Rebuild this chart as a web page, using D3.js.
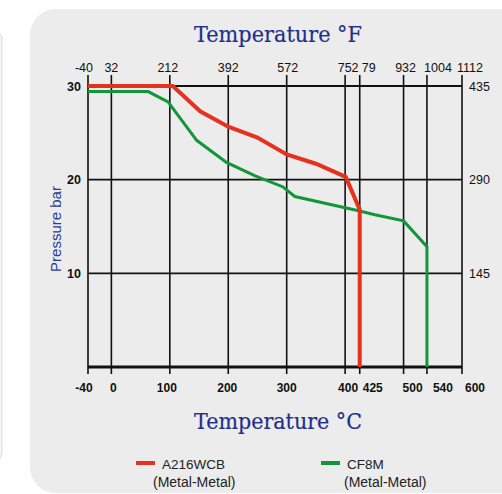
<!DOCTYPE html>
<html><head><meta charset="utf-8">
<script src="https://cdn.jsdelivr.net/npm/d3@7"></script>
<style>html,body{margin:0;padding:0;background:#fff;overflow:hidden}</style>
</head><body>
<svg id="c" width="502" height="494"></svg>
<script>
const cTicks = [-40, 0, 100, 200, 300, 400, 425, 500, 540, 600];
const fLabels = ["-40", "32", "212", "392", "572", "752", "79", "932", "1004", "1112"];
const pTicks = [10, 20, 30];
const psiLabels = ["145", "290", "435"];
const seriesNames = ["A216WCB", "CF8M"];
const seriesSub = ["(Metal-Metal)", "(Metal-Metal)"];
const wcbTemp = [-40, 105, 152, 200, 250, 300, 350, 401, 425, 425];
const wcbPress = [30, 30, 27.3, 25.65, 24.5, 22.7, 21.7, 20.3, 16.8, 0];
const cf8mTemp = [-40, 63, 97, 146, 197, 246, 293, 314, 425, 451, 500, 540, 540];
const cf8mPress = [29.4, 29.4, 28.3, 24.2, 21.85, 20.4, 19.25, 18.2, 16.65, 16.25, 15.6, 12.85, 0];

// label nudges (layout only)
const topNudge = [-4, 0, -2, 0, 1, 3, 9, 2, 11, 8];
const botNudge = [-4, 2, -3, -1, 0, 3, 13, 9, 16, 13];

const svg = d3.select("#c");
svg.append("rect").attr("x", -40).attr("y", 28).attr("width", 42).attr("height", 436).attr("rx", 12)
  .attr("fill", "#f6f6f6").attr("stroke", "#dcdcdc").attr("stroke-width", 1);
svg.append("rect").attr("x", 30).attr("y", 9).attr("width", 520).attr("height", 484).attr("rx", 26)
  .attr("fill", "#ececec");

const x = d3.scaleLinear().domain([-40, 600]).range([88, 462]);
const y = d3.scaleLinear().domain([0, 30]).range([367, 86]);

const g = svg.append("g");
g.selectAll("line.v").data(cTicks).join("line")
  .attr("x1", d => x(d)).attr("x2", d => x(d))
  .attr("y1", y(30) - 11).attr("y2", y(0) + 7)
  .attr("stroke", "#111").attr("stroke-width", 1.6);
g.selectAll("line.h").data([0, 10, 20, 30]).join("line")
  .attr("x1", x(-40)).attr("x2", x(600))
  .attr("y1", d => y(d)).attr("y2", d => y(d))
  .attr("stroke", "#111").attr("stroke-width", d => d === 0 ? 3.2 : 1.8);

const sans = "Liberation Sans, Arial, sans-serif";
g.selectAll("text.f").data(cTicks).join("text")
  .attr("x", (d, i) => x(d) + topNudge[i]).attr("y", 72).attr("text-anchor", "middle")
  .attr("font-family", sans).attr("font-size", 12.5).attr("fill", "#111")
  .text((d, i) => fLabels[i]);
g.selectAll("text.c").data(cTicks).join("text")
  .attr("x", (d, i) => x(d) + botNudge[i]).attr("y", 392).attr("text-anchor", "middle")
  .attr("font-family", sans).attr("font-size", 12).attr("font-weight", "bold").attr("fill", "#111")
  .text(d => d);
g.selectAll("text.l").data(pTicks).join("text")
  .attr("x", 81).attr("y", d => y(d) + 4.5).attr("text-anchor", "end")
  .attr("font-family", sans).attr("font-size", 12.5).attr("font-weight", "bold").attr("fill", "#111")
  .text(d => d);
g.selectAll("text.r").data(pTicks).join("text")
  .attr("x", 469).attr("y", d => y(d) + 4.5).attr("text-anchor", "start")
  .attr("font-family", sans).attr("font-size", 12.5).attr("fill", "#111")
  .text((d, i) => psiLabels[i]);

const line = d3.line().x(d => x(d[0])).y(d => y(d[1]));
const colors = ["#e4321f", "#119639"];
const widths = [4, 3];
const data = [d3.zip(wcbTemp, wcbPress), d3.zip(cf8mTemp, cf8mPress)];
[1, 0].forEach(i => {
  g.append("path").datum(data[i]).attr("d", line).attr("fill", "none")
    .attr("stroke", colors[i]).attr("stroke-width", widths[i]).attr("stroke-linejoin", "miter");
});

function title(txt, yy) {
  svg.append("text").attr("x", 278).attr("y", yy).attr("text-anchor", "middle")
    .attr("font-family", "DejaVu Serif, serif").attr("font-size", 22.5).attr("fill", "#1f2f8a")
    .attr("stroke", "#1f2f8a").attr("stroke-width", 0.2)
    .attr("textLength", 168).attr("lengthAdjust", "spacingAndGlyphs")
    .text(txt);
}
title("Temperature °F", 42);
title("Temperature °C", 429);

svg.append("text").attr("transform", "translate(61,229) rotate(-90)").attr("text-anchor", "middle")
  .attr("font-family", sans).attr("font-size", 15).attr("fill", "#2b3c98")
  .text("Pressure bar");

const lx = [136, 321];
seriesNames.forEach((n, i) => {
  svg.append("line").attr("x1", lx[i]).attr("x2", lx[i] + 19).attr("y1", 463).attr("y2", 463)
    .attr("stroke", colors[i]).attr("stroke-width", 4);
  svg.append("text").attr("x", lx[i] + 26).attr("y", 469)
    .attr("font-family", sans).attr("font-size", 13.5).attr("fill", "#222").text(n);
  svg.append("text").attr("x", lx[i] + 17 + (i ? 6 : 0)).attr("y", 487)
    .attr("font-family", sans).attr("font-size", 14).attr("fill", "#222").text(seriesSub[i]);
});
</script>
</body></html>
